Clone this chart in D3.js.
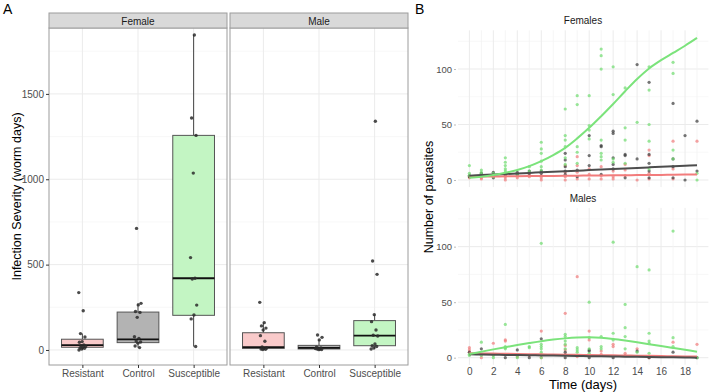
<!DOCTYPE html>
<html>
<head>
<meta charset="utf-8">
<script src="https://cdn.jsdelivr.net/npm/d3@7"></script>
<style>
  body { margin: 0; background: #fff; }
  svg { display: block; font-family: "Liberation Sans", Arial, sans-serif; }
</style>
</head>
<body>
<svg id="chart" width="709" height="392"></svg>
<script>
// ---- data: panel A (infection severity, worm days) ----
const groups = ["Resistant", "Control", "Susceptible"];
const sexes = ["Female", "Male"];
const severityTicks = [0, 500, 1000, 1500];
const severityMinor = [250, 750, 1250, 1750];

// [lower whisker, q1, median, q3, upper whisker] per group
const femaleBoxStats = [[0, 16, 29, 63, 96], [14, 43, 62, 222, 273], [20, 203, 420, 1257, 1845]];
const maleBoxStats = [[5, 9, 17, 101, 160], [3, 6, 12, 27, 59], [6, 25, 84, 172, 207]];

const femaleSeverity = [
  [336, 230, 96, 76, 49, 45, 30, 25, 20, 16, 12, 10, 5, 0],
  [712, 273, 264, 225, 220, 191, 78, 68, 53, 47, 40, 23, 14],
  [1845, 1359, 1257, 1036, 541, 420, 416, 263, 205, 182, 20]
];
const maleSeverity = [
  [279, 160, 141, 128, 117, 84, 51, 18, 12, 8, 5, 4, 3],
  [88, 74, 59, 16, 12, 10, 8, 6, 5, 3, 2],
  [1340, 521, 443, 207, 166, 117, 86, 82, 35, 25, 20, 12, 6]
];

// ---- data: panel B (parasites over time) ----
const timeTicks = [0, 2, 4, 6, 8, 10, 12, 14, 16, 18];
const parasiteTicks = [0, 50, 100];
const parasiteMinor = [25, 75, 125];
const fitDays = [0, 1, 2, 3, 4, 5, 6, 7, 8, 9, 10, 11, 12, 13, 14, 15, 16, 17, 18, 19];

// fitted curves, one value per day
const femFitSusceptible = [2, 3, 4.5, 6.5, 9, 12.5, 17, 22.5, 29, 37.5, 47, 57.5, 68.5, 80, 91, 100.5, 108, 114.5, 121, 128];
const femFitControl = [3.9, 4.4, 4.9, 5.4, 5.9, 6.4, 6.9, 7.4, 7.9, 8.4, 8.9, 9.4, 9.9, 10.4, 10.9, 11.4, 11.9, 12.4, 12.9, 13.4];
const femFitResistant = [3, 3.1, 3.2, 3.3, 3.4, 3.5, 3.6, 3.7, 3.8, 3.9, 4, 4.1, 4.2, 4.3, 4.4, 4.5, 4.6, 4.8, 4.9, 5];
const maleFitSusceptible = [3.3, 5.4, 7.5, 9.5, 11.4, 13.2, 14.9, 16.3, 17.4, 18.1, 18.3, 17.9, 16.9, 15.5, 13.9, 12.2, 10.5, 8.8, 7.1, 5.4];
const maleFitControl = [3, 2.85, 2.7, 2.5, 2.35, 2.2, 2.05, 1.9, 1.75, 1.6, 1.4, 1.25, 1.1, 0.95, 0.8, 0.65, 0.5, 0.3, 0.15, 0];
const maleFitResistant = [4, 3.85, 3.7, 3.5, 3.35, 3.2, 3.05, 2.9, 2.75, 2.6, 2.4, 2.25, 2.1, 1.95, 1.8, 1.65, 1.5, 1.3, 1.15, 1];

// observations [day, parasites]
const femSusceptiblePts = [[0,13],[0,6],[0,4],[1,9],[1,7],[1,5],[2,6],[2,3],[3,20],[3,16],[3,13],[3,10],[3,8],[3,6],[4,5],[5,12],[5,8],
  [6,34],[6,28],[6,24],[6,17],[6,12],[6,9],[8,64],[8,40],[8,36],[8,30],[8,20],[8,14],[9,76],[9,68],[9,30],[9,25],[9,15],
  [10,76],[10,49],[10,45],[10,37],[11,118],[11,112],[11,100],[11,36],[11,24],[11,21],[11,18],[12,102],[12,77],[12,19],[12,16],
  [13,83],[13,47],[13,36],[13,15],[14,52],[15,102],[15,81],[15,50],[15,35],[15,10],[17,106],[17,96],[17,27],[17,19],[19,6],[19,0]];
const femControlPts = [[0,4],[0,3],[1,6],[2,7],[2,2],[3,4],[4,7],[4,5],[5,8],[5,6],[6,8],[6,6],[8,24],[8,18],[8,12],[8,8],[8,5],
  [9,9],[9,3],[10,40],[10,22],[10,13],[11,31],[11,30],[11,5],[12,44],[12,42],[12,20],[12,14],[12,10],[13,23],[13,22],[13,2],
  [14,104],[14,19],[15,88],[15,23],[15,15],[15,8],[15,2],[17,69],[17,19],[17,12],[17,2],[18,40],[18,0],[19,53],[19,8]];
const femResistantPts = [[0,2],[0,3],[1,1],[1,2],[2,3],[3,0],[3,2],[3,5],[4,2],[4,4],[5,3],[5,5],[6,0],[6,2],[6,4],
  [8,13],[8,7],[8,3],[8,0],[9,21],[9,13],[9,7],[9,1],[10,10],[10,5],[10,1],[11,12],[11,4],[11,1],[12,8],[12,3],[12,1],
  [13,14],[13,9],[13,4],[14,0],[15,27],[15,22],[15,6],[15,1],[17,35],[17,10],[17,1],[19,35]];
const maleSusceptiblePts = [[0,3],[0,2],[1,14],[1,2],[2,2],[2,0],[3,30],[3,10],[3,9],[3,8],[4,2],[4,0],[5,10],[5,9],
  [6,103],[6,12],[6,10],[6,8],[6,5],[6,3],[6,0],[8,21],[8,19],[8,15],[8,12],[8,8],[9,9],[9,7],[9,5],[10,50],[10,18],[10,8],[10,4],
  [11,19],[11,10],[11,8],[12,104],[12,22],[12,16],[13,48],[13,27],[13,19],[13,8],[14,82],[14,5],[15,79],[15,22],[15,15],[15,13],[15,4],
  [17,114],[17,18],[17,10],[19,0]];
const maleControlPts = [[0,5],[1,8],[3,0],[4,7],[5,0],[6,17],[8,5],[8,0],[10,7],[10,6],[10,0],[12,0],[14,6],[15,0],[17,5],[19,0]];
const maleResistantPts = [[0,9],[0,7],[0,5],[1,0],[2,13],[3,16],[3,15],[4,1],[5,2],[6,24],[6,0],[8,40],[8,11],[8,7],[8,3],
  [9,73],[9,1],[10,24],[10,16],[11,6],[11,3],[12,12],[12,10],[13,4],[13,2],[14,8],[15,0],[17,14],[19,12]];

// ---- styles ----
const boxFill = ["#F9CACA", "#B3B3B3", "#C3F5C3"];
const lineColor = { Resistant: "#F27C7C", Control: "#4D4D4D", Susceptible: "#7BE37B" };
const dotColor = { Resistant: "#F07A7A", Control: "#3A3A3A", Susceptible: "#6EDC6E" };
const gridMajor = "#EBEBEB", gridMinor = "#F3F3F3";

const svg = d3.select("#chart");

function styleAxis(ax, size, tickColor) {
  ax.attr("font-family", null).attr("font-size", null);
  ax.select(".domain").remove();
  ax.selectAll("line").attr("stroke", tickColor);
  ax.selectAll("text").attr("font-size", size).attr("fill", "#4D4D4D");
}

// ---------------- panel A ----------------
const aTop = 28, aBottom = 365;
const yA = d3.scaleLinear().domain([-88, 1886]).range([aBottom, aTop]);
const panelsA = [
  { name: sexes[0], x0: 49, x1: 227, stats: femaleBoxStats, pts: femaleSeverity },
  { name: sexes[1], x0: 230, x1: 408, stats: maleBoxStats, pts: maleSeverity }
];

svg.append("text").attr("x", 3).attr("y", 14).attr("font-size", 14).text("A");

panelsA.forEach((p, pi) => {
  const x = d3.scalePoint().domain(groups).range([p.x0, p.x1]).padding(0.6);
  const step = x.step();
  const g = svg.append("g");

  // grid
  g.selectAll(".mn").data(severityMinor).enter().append("line")
    .attr("x1", p.x0).attr("x2", p.x1).attr("y1", d => yA(d)).attr("y2", d => yA(d))
    .attr("stroke", gridMinor).attr("stroke-width", 0.6);
  g.selectAll(".mj").data(severityTicks).enter().append("line")
    .attr("x1", p.x0).attr("x2", p.x1).attr("y1", d => yA(d)).attr("y2", d => yA(d))
    .attr("stroke", gridMajor).attr("stroke-width", 1);
  g.selectAll(".vj").data(groups).enter().append("line")
    .attr("x1", d => x(d)).attr("x2", d => x(d)).attr("y1", aTop).attr("y2", aBottom)
    .attr("stroke", gridMajor).attr("stroke-width", 1);

  // boxes
  const bw = step * 0.75;
  groups.forEach((grp, gi) => {
    const s = p.stats[gi], cx = x(grp);
    g.append("line").attr("x1", cx).attr("x2", cx).attr("y1", yA(s[4])).attr("y2", yA(s[3]))
      .attr("stroke", "#444").attr("stroke-width", 1);
    g.append("line").attr("x1", cx).attr("x2", cx).attr("y1", yA(s[1])).attr("y2", yA(s[0]))
      .attr("stroke", "#444").attr("stroke-width", 1);
    g.append("rect").attr("x", cx - bw / 2).attr("width", bw)
      .attr("y", yA(s[3])).attr("height", yA(s[1]) - yA(s[3]))
      .attr("fill", boxFill[gi]).attr("stroke", "#555").attr("stroke-width", 1);
    g.append("line").attr("x1", cx - bw / 2).attr("x2", cx + bw / 2).attr("y1", yA(s[2])).attr("y2", yA(s[2]))
      .attr("stroke", "#111").attr("stroke-width", 1.8);

    // jittered points (deterministic spread)
    g.selectAll(".pt" + gi).data(p.pts[gi]).enter().append("circle")
      .attr("cx", (d, i) => cx + (((i * 0.618034 + gi * 0.3) % 1) - 0.5) * 0.13 * step)
      .attr("cy", d => yA(d))
      .attr("r", 1.7)
      .attr("fill", "#2b2b2b").attr("fill-opacity", 0.85);
  });

  // border
  g.append("rect").attr("x", p.x0).attr("y", aTop).attr("width", p.x1 - p.x0).attr("height", aBottom - aTop)
    .attr("fill", "none").attr("stroke", "#9C9C9C").attr("stroke-width", 1);
  // strip
  g.append("rect").attr("x", p.x0).attr("y", 13).attr("width", p.x1 - p.x0).attr("height", 15)
    .attr("fill", "#D9D9D9").attr("stroke", "#9C9C9C").attr("stroke-width", 1);
  g.append("text").attr("x", (p.x0 + p.x1) / 2).attr("y", 21).attr("dy", "0.35em")
    .attr("text-anchor", "middle").attr("font-size", 10).attr("fill", "#1A1A1A").text(p.name);

  // x axis
  const xa = g.append("g").attr("transform", `translate(0,${aBottom})`)
    .call(d3.axisBottom(x).tickSize(3).tickPadding(2));
  styleAxis(xa, 10, "#333");

  if (pi === 0) {
    const ya = g.append("g").attr("transform", `translate(${p.x0},0)`)
      .call(d3.axisLeft(yA).tickValues(severityTicks).tickFormat(d3.format("d")).tickSize(3).tickPadding(2));
    styleAxis(ya, 10, "#333");
  }
});

svg.append("text")
  .attr("transform", `translate(17,${(aTop + aBottom) / 2}) rotate(-90)`)
  .attr("text-anchor", "middle").attr("dy", "0.35em").attr("font-size", 12.5)
  .text("Infection Severity (worm days)");

// ---------------- panel B ----------------
const xB = d3.scaleLinear().domain([-0.95, 19.95]).range([458, 708.4]);
const bPanels = [
  { name: "Females", top: 30.3, bottom: 187.1, titleY: 20.7,
    fits: { Resistant: femFitResistant, Control: femFitControl, Susceptible: femFitSusceptible },
    pts: { Resistant: femResistantPts, Control: femControlPts, Susceptible: femSusceptiblePts } },
  { name: "Males", top: 207.9, bottom: 364.8, titleY: 198.3,
    fits: { Resistant: maleFitResistant, Control: maleFitControl, Susceptible: maleFitSusceptible },
    pts: { Resistant: maleResistantPts, Control: maleControlPts, Susceptible: maleSusceptiblePts } }
];

svg.append("text").attr("x", 415).attr("y", 14).attr("font-size", 14).text("B");

bPanels.forEach((p, pi) => {
  const y = d3.scaleLinear().domain([-6.4, 134.9]).range([p.bottom, p.top]);
  const g = svg.append("g");

  // grid
  g.selectAll(".hmn").data(parasiteMinor).enter().append("line")
    .attr("x1", 458).attr("x2", 708.4).attr("y1", d => y(d)).attr("y2", d => y(d))
    .attr("stroke", gridMinor).attr("stroke-width", 0.6);
  g.selectAll(".hmj").data(parasiteTicks).enter().append("line")
    .attr("x1", 458).attr("x2", 708.4).attr("y1", d => y(d)).attr("y2", d => y(d))
    .attr("stroke", gridMajor).attr("stroke-width", 1);
  g.selectAll(".vg").data(fitDays).enter().append("line")
    .attr("x1", d => xB(d)).attr("x2", d => xB(d)).attr("y1", p.top).attr("y2", p.bottom)
    .attr("stroke", d => d % 2 === 0 ? gridMajor : gridMinor)
    .attr("stroke-width", d => d % 2 === 0 ? 1 : 0.8);

  // points
  groups.forEach(grp => {
    g.selectAll(".p" + grp).data(p.pts[grp]).enter().append("circle")
      .attr("cx", d => xB(d[0])).attr("cy", d => y(d[1])).attr("r", 1.6)
      .attr("fill", dotColor[grp]).attr("fill-opacity", 0.7);
  });

  // fitted lines
  const line = d3.line().x((d, i) => xB(fitDays[i])).y(d => y(d)).curve(d3.curveCatmullRom);
  groups.forEach(grp => {
    g.append("path").datum(p.fits[grp]).attr("d", line)
      .attr("fill", "none").attr("stroke", lineColor[grp]).attr("stroke-width", 2);
  });

  g.append("text").attr("x", 583).attr("y", p.titleY).attr("dy", "0.35em")
    .attr("text-anchor", "middle").attr("font-size", 10).attr("fill", "#1A1A1A").text(p.name);

  const ya = g.append("g").attr("transform", "translate(456,0)")
    .call(d3.axisLeft(y).tickValues(parasiteTicks).tickSize(2).tickPadding(2));
  styleAxis(ya, 9.5, "#BBB");

  if (pi === 1) {
    const xa = g.append("g").attr("transform", `translate(0,${p.bottom})`)
      .call(d3.axisBottom(xB).tickValues(timeTicks).tickSize(0).tickPadding(3));
    styleAxis(xa, 10, "#BBB");
  }
});

svg.append("text")
  .attr("transform", "translate(429,197) rotate(-90)")
  .attr("text-anchor", "middle").attr("dy", "0.35em").attr("font-size", 12.5)
  .text("Number of parasites");
svg.append("text").attr("x", 583).attr("y", 384).attr("dy", "0.35em")
  .attr("text-anchor", "middle").attr("font-size", 13).text("Time (days)");
</script>
</body>
</html>
